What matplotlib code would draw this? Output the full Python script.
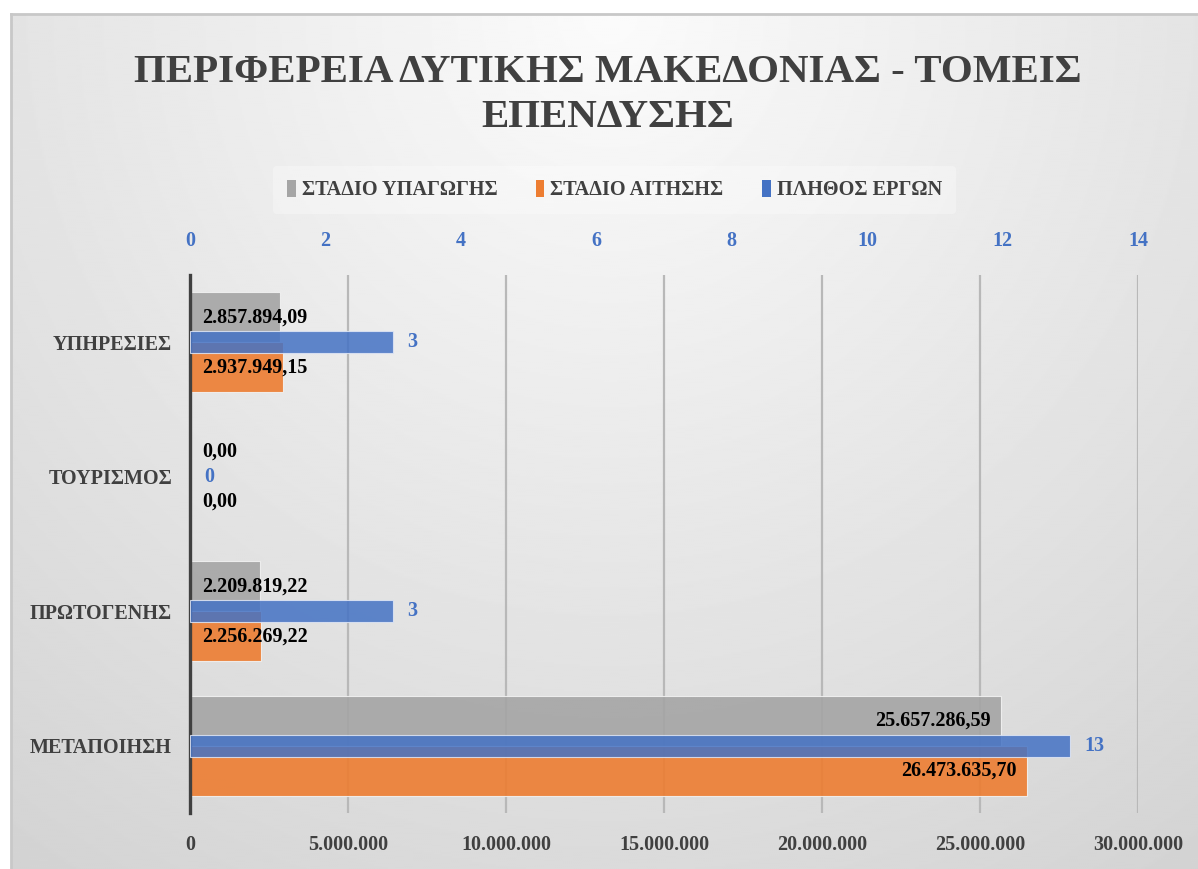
import numpy as np
import matplotlib.pyplot as plt
from matplotlib.patches import Patch

plt.rcParams['font.family'] = ['Liberation Serif', 'DejaVu Serif']
plt.rcParams['font.weight'] = 'bold'

# data (Excel order: bottom category first)
sectors = ['ΜΕΤΑΠΟΙΗΣΗ', 'ΠΡΩΤΟΓΕΝΗΣ', 'ΤΟΥΡΙΣΜΟΣ', 'ΥΠΗΡΕΣΙΕΣ']
stage_inclusion = [25657286.59, 2209819.22, 0.00, 2857894.09]
stage_application = [26473635.70, 2256269.22, 0.00, 2937949.15]
project_count = [13, 3, 0, 3]

series_names = ['ΣΤΑΔΙΟ ΥΠΑΓΩΓΗΣ', 'ΣΤΑΔΙΟ ΑΙΤΗΣΗΣ', 'ΠΛΗΘΟΣ ΕΡΓΩΝ']
title = 'ΠΕΡΙΦΕΡΕΙΑ ΔΥΤΙΚΗΣ ΜΑΚΕΔΟΝΙΑΣ - ΤΟΜΕΙΣ\nΕΠΕΝΔΥΣΗΣ'

GRAY = '#A5A5A5'
ORANGE = '#ED7D31'
BLUE = '#4472C4'
DARK = '#404040'


def greek_num(v, dec=2):
    s = f'{v:,.{dec}f}'
    return s.replace(',', 'X').replace('.', ',').replace('X', '.')


W, H = 1198, 869
fig = plt.figure(figsize=(W / 100, H / 100), dpi=100)

# chart area background with soft gradient
bx, by = 11 / W, 14 / H
bg = fig.add_axes([bx, -0.01, 1 - bx + 0.01, 1 - by + 0.01], zorder=-10)
xx, yy = np.meshgrid(np.linspace(0, 1, 600), np.linspace(0, 1, 450))
r = np.sqrt(((xx - 0.5) / 0.7) ** 2 + yy ** 2)
shade = np.clip(0.985 - 0.13 * r, 0, 1)
bg.imshow(shade, cmap='gray', vmin=0, vmax=1, aspect='auto', extent=(0, 1, 1, 0),
          interpolation='bilinear')
bg.set_xlim(0, 1)
bg.set_ylim(1, 0)
bg.axis('off')
fig.add_artist(plt.Line2D([bx, 1], [1 - by, 1 - by], color='#c8c8c8', lw=2))
fig.add_artist(plt.Line2D([bx, bx], [0, 1 - by], color='#c8c8c8', lw=2))

left, right = 190 / W, 1138 / W
top, bottom = 1 - 275 / H, 1 - 813 / H
ax = fig.add_axes([left, bottom, right - left, top - bottom])
ax.set_facecolor('none')

y = np.arange(len(sectors))
bh = 0.372
b1 = ax.barh(y + bh / 2, stage_inclusion, height=bh, color=GRAY, alpha=0.9,
             edgecolor='#f2f2f2', linewidth=0.8, zorder=2)
b2 = ax.barh(y - bh / 2, stage_application, height=bh, color=ORANGE, alpha=0.9,
             edgecolor='#f2f2f2', linewidth=0.8, zorder=2)
ax.set_xlim(0, 30000000)
ax.set_ylim(-0.5, 3.5)
ax.set_xticks(np.arange(0, 30000001, 5000000))
ax.set_xticklabels([greek_num(t, 0) for t in ax.get_xticks()])
ax.set_yticks(y)
ax.set_yticklabels(sectors)
ax.tick_params(axis='x', length=0, pad=16, labelsize=14.5, labelcolor=DARK)
ax.tick_params(axis='y', length=0, pad=13, labelsize=14.5, labelcolor=DARK)
ax.set_axisbelow(True)
ax.xaxis.grid(True, color='#b8b8b8', linewidth=1.6)
for s in ['top', 'right', 'bottom']:
    ax.spines[s].set_visible(False)
ax.spines['left'].set_color(DARK)
ax.spines['left'].set_linewidth(2.4)
ax.spines['left'].set_zorder(5)

ax2 = ax.twiny()
b3 = ax2.barh(y, project_count, height=0.164, color=BLUE, alpha=0.85,
              edgecolor='#dfe6f5', linewidth=0.8, zorder=3)
for p, c in zip(b3, project_count):
    if c == 0:
        p.set_linewidth(0)
ax2.set_xlim(0, 14)
ax2.set_xticks(np.arange(0, 15, 2))
ax2.tick_params(axis='x', length=0, pad=17, labelsize=14.5, labelcolor=BLUE)
for s in ax2.spines.values():
    s.set_visible(False)

# value labels
for vals, dy in [(stage_inclusion, bh / 2), (stage_application, -bh / 2)]:
    for yi, v in zip(y, vals):
        if v > 10000000:
            ax2.annotate(greek_num(v), (v, yi + dy), xycoords=ax.transData,
                         xytext=(-7, 0), textcoords='offset points',
                         ha='right', va='center', fontsize=14.5, color='black')
        else:
            ax2.annotate(greek_num(v), (0, yi + dy), xycoords=ax.transData,
                         xytext=(9, 0), textcoords='offset points',
                         ha='left', va='center', fontsize=14.5, color='black')
for yi, c in zip(y, project_count):
    ax2.annotate(str(c), (c, yi), xytext=(10, 0), textcoords='offset points',
                 ha='left', va='center', fontsize=14.5, color=BLUE)

# title
fig.text(0.507, 1 - 95 / H, title, ha='center', va='center', fontsize=29.5,
         color=DARK, linespacing=1.3)

# legend
handles = [Patch(facecolor=GRAY), Patch(facecolor=ORANGE), Patch(facecolor=BLUE)]
leg = fig.legend(handles, series_names, loc='center', bbox_to_anchor=(0.513, 1 - 190 / H),
                 ncol=3, frameon=True, fontsize=14.6, handlelength=0.42, handleheight=0.9,
                 handletextpad=0.3, columnspacing=1.9, borderpad=0.7)
leg.get_frame().set_facecolor('white')
leg.get_frame().set_alpha(0.3)
leg.get_frame().set_edgecolor('none')
for t in leg.get_texts():
    t.set_color(DARK)

fig.savefig('out.png', dpi=100)
